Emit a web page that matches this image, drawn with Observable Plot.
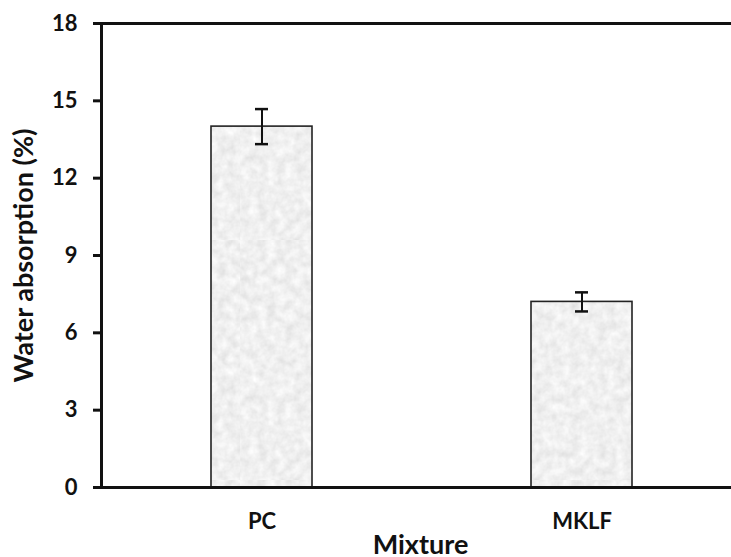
<!DOCTYPE html>
<html>
<head>
<meta charset="utf-8">
<script src="https://cdn.jsdelivr.net/npm/d3@7"></script>
<script src="https://cdn.jsdelivr.net/npm/@observablehq/plot@0.6"></script>
<style>
  html, body { margin: 0; padding: 0; background: #fff; }
  #chart { width: 731px; height: 557px; overflow: hidden; }
</style>
</head>
<body>
<div id="chart"></div>
<script>
const mixtures = ["PC", "MKLF"];
const absorption = [14.0, 7.2];
const errors = [0.68, 0.37];
const yTicks = [0, 3, 6, 9, 12, 15, 18];

const data = mixtures.map((m, i) => ({mixture: m, value: absorption[i], err: errors[i]}));

const font = "Lato, 'Open Sans', sans-serif";

const texture = () => {
  const ns = "http://www.w3.org/2000/svg";
  const defs = document.createElementNS(ns, "defs");
  defs.innerHTML = `
    <filter id="grain" x="0" y="0" width="100%" height="100%">
      <feTurbulence type="fractalNoise" baseFrequency="0.11" numOctaves="3" seed="4"/>
      <feColorMatrix type="matrix" values="0.3 0 0 0 0.72  0.3 0 0 0 0.72  0.3 0 0 0 0.72  0 0 0 0 1"/>
    </filter>
    <pattern id="tex" patternUnits="userSpaceOnUse" width="240" height="240">
      <rect width="240" height="240" fill="#e8e8e8" filter="url(#grain)"/>
    </pattern>`;
  return defs;
};

const chart = Plot.plot({
  width: 731,
  height: 557,
  marginLeft: 101,
  marginRight: 0,
  marginTop: 23,
  marginBottom: 70,
  style: {fontFamily: font, fontSize: "22px", fontWeight: "bold", color: "#111", background: "#fff"},
  x: {domain: mixtures, paddingInner: 0.685, paddingOuter: 0.324, align: 0.526, label: null},
  y: {domain: [0, 18], label: null},
  marks: [
    texture,
    Plot.barY(data, {x: "mixture", y: "value", fill: "url(#tex)", stroke: "#222", strokeWidth: 1.6}),
    Plot.ruleX(data, {x: "mixture", y1: d => d.value - d.err, y2: d => d.value + d.err, stroke: "#111", strokeWidth: 2}),
    Plot.tickY(data, {x: "mixture", y: d => d.value + d.err, stroke: "#111", strokeWidth: 2.5, insetLeft: 44, insetRight: 44}),
    Plot.tickY(data, {x: "mixture", y: d => d.value - d.err, stroke: "#111", strokeWidth: 2.5, insetLeft: 44, insetRight: 44}),
    Plot.ruleY([0, 18], {stroke: "#111", strokeWidth: 3}),
    Plot.frame({anchor: "left", stroke: "#111", strokeWidth: 3}),
    Plot.axisY({ticks: yTicks, tickSize: 8, tickPadding: 16, strokeWidth: 3, label: null, fontSize: 22, fontWeight: "bold"}),
    Plot.axisX({tickSize: 0, tickPadding: 26, label: null, fontSize: 22, fontWeight: "bold"}),
    Plot.text(["Water absorption (%)"], {frameAnchor: "left", textAnchor: "middle", rotate: -90, dx: -77, fontSize: 27, fontWeight: "bold", fill: "#111"}),
    Plot.text(["Mixture"], {frameAnchor: "bottom", dx: 4, dy: 66, fontSize: 27, fontWeight: "bold", fill: "#111"})
  ]
});
document.getElementById("chart").appendChild(chart);
</script>
</body>
</html>
